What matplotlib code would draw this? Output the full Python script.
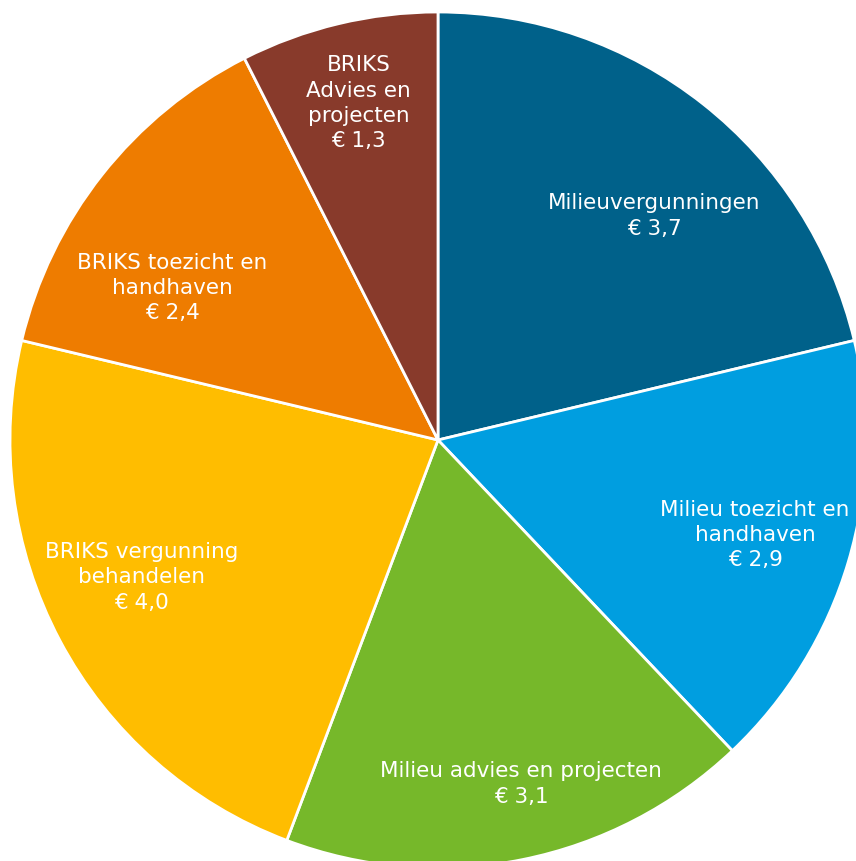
import matplotlib
matplotlib.use("Agg")
import matplotlib.pyplot as plt
import numpy as np

categories = ["Milieuvergunningen", "Milieu toezicht en\nhandhaven", "Milieu advies en projecten",
              "BRIKS vergunning\nbehandelen", "BRIKS toezicht en\nhandhaven", "BRIKS\nAdvies en\nprojecten"]
values = [3.7, 2.9, 3.1, 4.0, 2.4, 1.3]
colors = ["#00618A", "#009EE0", "#76B82A", "#FFBD00", "#EE7C00", "#883A2B"]
# label placement: radial fraction and angular offset (deg) from wedge mid-angle
label_r = [0.727, 0.773, 0.827, 0.764, 0.716, 0.808]
label_da = [-5.7, -0.1, 2.2, -3.1, 8.5, -0.2]

W, H = 856, 861
cx, cy, R = 438, 440, 428
fig = plt.figure(figsize=(W / 100, H / 100), dpi=100)
ax = fig.add_axes([0, 0, 1, 1])

wedges, _ = ax.pie(values, colors=colors, startangle=90, counterclock=False, radius=1,
                   wedgeprops=dict(edgecolor="white", linewidth=2.0))
ax.set_xlim(-cx / R, (W - cx) / R)
ax.set_ylim(-(H - cy) / R, cy / R)
ax.set_aspect("equal")
ax.axis("off")

for w, cat, v, r, da in zip(wedges, categories, values, label_r, label_da):
    ang = np.deg2rad((w.theta1 + w.theta2) / 2 + da)
    txt = f"{cat}\n€ {v:.1f}".replace(".", ",")
    ax.text(r * np.cos(ang), r * np.sin(ang), txt, ha="center", va="center",
            color="white", fontsize=15.5, family="DejaVu Sans", linespacing=1.33)

fig.savefig("out.png", dpi=100)
